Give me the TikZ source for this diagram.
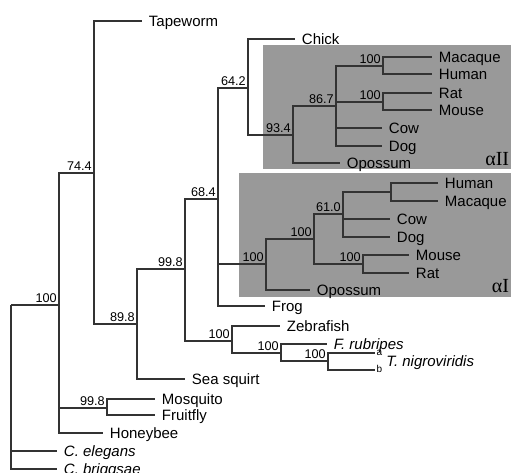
\documentclass[tikz,border=0pt]{standalone}
\usepackage{fontspec}
\newfontfamily\helv{Liberation Sans}
\newfontfamily\tms{Liberation Serif}
\definecolor{boxgray}{gray}{0.6}
\definecolor{branchgray}{gray}{0.2}

\begin{document}
\begin{tikzpicture}[x=0.75pt, y=-0.75pt,
  branch/.style={draw=branchgray, line width=0.9pt},
  leaf/.style={anchor=west, inner xsep=5pt, inner ysep=0pt, text height=8pt, text depth=0pt, font=\helv\fontsize{11.25}{13}\selectfont},
  sp/.style={leaf, font=\helv\itshape\fontsize{11.25}{13}\selectfont},
  bs/.style={anchor=south east, inner sep=1.5pt, font=\helv\fontsize{9.5}{10}\selectfont},
  tag/.style={anchor=west, inner xsep=1pt, inner ysep=0pt, text height=4pt, text depth=0pt, font=\helv\fontsize{7.5}{9}\selectfont},
  clade/.style={fill=boxgray},
  cladename/.style={anchor=south east, inner sep=0.5pt, font=\tms\fontsize{15}{16}\selectfont}]
  \useasboundingbox (0,0) rectangle (511,473);

  \fill[clade] (263,45) rectangle (511,169);
  \fill[clade] (239,173) rectangle (511,297);
  \node[cladename] (alphaII) at (510,167) {αII};
  \node[cladename] (alphaI) at (510,294) {αI};

  \coordinate (root) at (11,305);
  \coordinate (n100a) at (59,305);
  \coordinate (n744) at (94,173);
  \coordinate (n898) at (137,324);
  \coordinate (n998a) at (185,269);
  \coordinate (n684) at (218,199);
  \coordinate (n642) at (248,88);
  \coordinate (n934) at (293,135);
  \coordinate (n867) at (336,106);
  \coordinate (n100mh) at (383,66);
  \coordinate (n100rm) at (383,102);
  \coordinate (n100ai) at (266,264);
  \coordinate (n100b) at (314,239);
  \coordinate (n610) at (343,214);
  \coordinate (nhm) at (391,192);
  \coordinate (n100mr) at (363,264);
  \coordinate (n100z) at (232,341);
  \coordinate (n100ft) at (281,353);
  \coordinate (n100t) at (328,361);
  \coordinate (n998b) at (107,408);

  \node[leaf] (tapeworm) at (142,21) {Tapeworm};
  \node[leaf] (chick) at (295,39) {Chick};
  \node[leaf] (macaque2) at (432,57) {Macaque};
  \node[leaf] (human2) at (432,74) {Human};
  \node[leaf] (rat2) at (432,93) {Rat};
  \node[leaf] (mouse2) at (432,110) {Mouse};
  \node[leaf] (cow2) at (382,128) {Cow};
  \node[leaf] (dog2) at (382,146) {Dog};
  \node[leaf] (opossum2) at (340,163) {Opossum};
  \node[leaf] (human1) at (438,183) {Human};
  \node[leaf] (macaque1) at (438,201) {Macaque};
  \node[leaf] (cow1) at (390,219) {Cow};
  \node[leaf] (dog1) at (390,237) {Dog};
  \node[leaf] (mouse1) at (409,255) {Mouse};
  \node[leaf] (rat1) at (409,273) {Rat};
  \node[leaf] (opossum1) at (310,290) {Opossum};
  \node[leaf] (frog) at (265,306) {Frog};
  \node[leaf] (zebrafish) at (280,326) {Zebrafish};
  \node[sp] (frubripes) at (327,344) {F. rubripes};
  \node[tag] (ta) at (375,353) {a};
  \node[tag] (tb) at (375,370) {b};
  \node[sp, inner xsep=0pt] (tnigro) at (386,361) {T. nigroviridis};
  \node[leaf] (seasquirt) at (185,379) {Sea squirt};
  \node[leaf] (mosquito) at (155,399) {Mosquito};
  \node[leaf] (fruitfly) at (155,415) {Fruitfly};
  \node[leaf] (honeybee) at (103,433) {Honeybee};
  \node[sp] (celegans) at (57,451) {C. elegans};
  \node[sp] (cbriggsae) at (57,469) {C. briggsae};

  \foreach \p/\c in {root/n100a, root/celegans.west, root/cbriggsae.west,
      n100a/n744, n100a/n998b, n100a/honeybee.west,
      n744/tapeworm.west, n744/n898,
      n898/n998a, n898/seasquirt.west,
      n998a/n684, n998a/n100z,
      n684/n642, n684/n100ai, n684/frog.west,
      n642/chick.west, n642/n934,
      n934/n867, n934/opossum2.west,
      n867/n100mh, n867/n100rm, n867/cow2.west, n867/dog2.west,
      n100mh/macaque2.west, n100mh/human2.west,
      n100rm/rat2.west, n100rm/mouse2.west,
      n100ai/n100b, n100ai/opossum1.west,
      n100b/n610, n100b/n100mr,
      n610/nhm, n610/cow1.west, n610/dog1.west,
      nhm/human1.west, nhm/macaque1.west,
      n100mr/mouse1.west, n100mr/rat1.west,
      n100z/zebrafish.west, n100z/n100ft,
      n100ft/frubripes.west, n100ft/n100t,
      n100t/ta.west, n100t/tb.west,
      n998b/mosquito.west, n998b/fruitfly.west}
    \draw[branch] (\p) |- (\c);

  \node[bs] (l100a) at (n100a) {100};
  \node[bs] (l744) at (n744) {74.4};
  \node[bs] (l898) at (n898) {89.8};
  \node[bs] (l998a) at (n998a) {99.8};
  \node[bs] (l684) at (n684) {68.4};
  \node[bs] (l642) at (n642) {64.2};
  \node[bs] (l934) at (n934) {93.4};
  \node[bs] (l867) at (n867) {86.7};
  \node[bs] (l100mh) at (n100mh) {100};
  \node[bs] (l100rm) at (n100rm) {100};
  \node[bs] (l100ai) at (n100ai) {100};
  \node[bs] (l100b) at (n100b) {100};
  \node[bs] (l610) at (n610) {61.0};
  \node[bs] (l100mr) at (n100mr) {100};
  \node[bs] (l100z) at (n100z) {100};
  \node[bs] (l100ft) at (n100ft) {100};
  \node[bs] (l100t) at (n100t) {100};
  \node[bs] (l998b) at (n998b) {99.8};
\end{tikzpicture}
\end{document}
